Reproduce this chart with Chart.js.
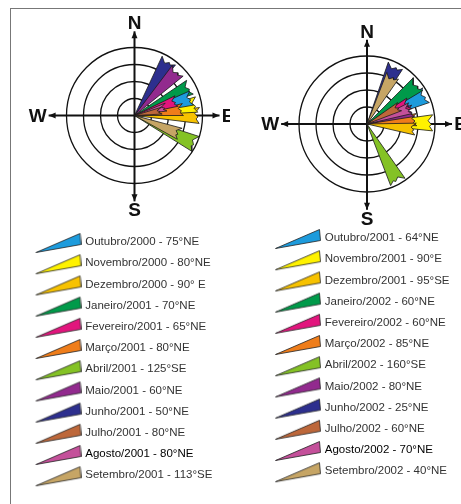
<!DOCTYPE html>
<html>
<head>
<meta charset="utf-8">
<script src="https://cdn.jsdelivr.net/npm/chart.js@4.4.1/dist/chart.umd.min.js"></script>
<style>
  body { margin: 0; background: #fff; }
  #folha { position: relative; width: 461px; height: 504px; overflow: hidden; }
  #moldura { position: absolute; left: 10px; top: 8px; width: 470px; height: 510px;
             border-top: 1.5px solid #777; border-left: 1.5px solid #777; }
  .painel { position: absolute; top: 0; }
</style>
</head>
<body>
<div id="folha">
  <div id="moldura"></div>
  <div class="painel" style="left:0"><canvas id="rosa1" width="230" height="504"></canvas></div>
  <div class="painel" style="left:230px"><canvas id="rosa2" width="231" height="504"></canvas></div>
</div>
<script>
// rosas de direcao mensal - out/2000 a set/2002
const rotulos1 = ['Outubro/2000 - 75°NE', 'Novembro/2000 - 80°NE', 'Dezembro/2000 - 90° E',
  'Janeiro/2001 - 70°NE', 'Fevereiro/2001 - 65°NE', 'Março/2001 - 80°NE', 'Abril/2001 - 125°SE',
  'Maio/2001 - 60°NE', 'Junho/2001 - 50°NE', 'Julho/2001 - 80°NE', 'Agosto/2001 - 80°NE',
  'Setembro/2001 - 113°SE'];
// direcao desenhada (graus a partir do N) e comprimento (em aneis)
const direcao1 = [73, 80, 90, 63, 71, 83, 115, 44, 32, 80, 75, 112];
const intensidade1 = [3.55, 3.75, 3.85, 3.7, 2.65, 2.9, 4.0, 3.7, 3.85, 1.65, 1.95, 2.9];

const rotulos2 = ['Outubro/2001 - 64°NE', 'Novembro/2001 - 90°E', 'Dezembro/2001 - 95°SE',
  'Janeiro/2002 - 60°NE', 'Fevereiro/2002 - 60°NE', 'Março/2002 - 85°NE', 'Abril/2002 - 160°SE',
  'Maio/2002 - 80°NE', 'Junho/2002 - 25°NE', 'Julho/2002 - 60°NE', 'Agosto/2002 - 70°NE',
  'Setembro/2002 - 40°NE'];
const direcao2 = [64, 89, 96, 52, 64, 85, 152, 74, 26, 62, 70, 28];
const intensidade2 = [3.9, 3.9, 2.9, 3.85, 2.8, 2.95, 3.9, 2.85, 3.85, 2.2, 2.75, 3.25];

const aneis = [1, 2, 3, 4];
const pontosCardeais = ['N', 'E', 'S', 'W'];

const cores = ['#1d9bdc', '#fff200', '#f7c200', '#009a4a', '#e2157d', '#ef7d1a',
  '#84c225', '#922a8e', '#2d2f8e', '#bd673a', '#c4509a', '#c6a565'];

const PX = 17;        // pixels por anel
const FONTE = 11.5;
const PAD_LEG = 9.7;  // linhas da legenda a cada 21.2px
const ABERTURA = 7;   // meia abertura da cunha, graus

function ponto(ang, r) {
  const a = ang * Math.PI / 180;
  return {x: r * Math.sin(a), y: r * Math.cos(a)};
}
// cunha triangular com a ponta externa recortada
function cunha(ang, r) {
  const w = ABERTURA;
  return [ponto(0, 0), ponto(ang - w, r), ponto(ang - w * 0.3, r - 0.3),
    ponto(ang + w * 0.2, r - 0.12), ponto(ang + w * 0.45, r - 0.22), ponto(ang + w, r - 0.02), ponto(0, 0)];
}

function icone(cor) {
  const c = document.createElement('canvas');
  c.width = 48; c.height = 24;
  const g = c.getContext('2d');
  g.beginPath();
  g.moveTo(2.5, 22.5); g.lineTo(46.5, 3.5); g.lineTo(47.5, 14.5); g.closePath();
  g.fillStyle = cor; g.fill();
  g.strokeStyle = '#222'; g.lineWidth = 0.8; g.stroke();
  return c;
}

function seta(ctx, x1, y1, x2, y2) {
  const a = Math.atan2(y2 - y1, x2 - x1);
  ctx.beginPath(); ctx.moveTo(x1, y1); ctx.lineTo(x2, y2); ctx.stroke();
  ctx.beginPath();
  ctx.moveTo(x2, y2);
  ctx.lineTo(x2 - 7 * Math.cos(a) + 3 * Math.sin(a), y2 - 7 * Math.sin(a) - 3 * Math.cos(a));
  ctx.lineTo(x2 - 7 * Math.cos(a) - 3 * Math.sin(a), y2 - 7 * Math.sin(a) + 3 * Math.cos(a));
  ctx.closePath(); ctx.fill();
}

const rosaFundo = {
  id: 'rosaFundo',
  beforeDatasetsDraw(chart) {
    const {ctx, scales: {x, y}} = chart;
    const x0 = x.getPixelForValue(0), y0 = y.getPixelForValue(0);
    const u = x.getPixelForValue(1) - x0;
    ctx.save();
    ctx.strokeStyle = '#111';
    ctx.fillStyle = '#111';
    ctx.lineWidth = 1.3;
    aneis.forEach(r => {
      ctx.beginPath(); ctx.arc(x0, y0, r * u, 0, 2 * Math.PI); ctx.stroke();
    });
    ctx.lineWidth = 2;
    seta(ctx, x0, y0, x0, y0 - 4.95 * u);
    seta(ctx, x0, y0, x0, y0 + 5.05 * u);
    seta(ctx, x0, y0, x0 - 5.05 * u, y0);
    seta(ctx, x0, y0, x0 + 5 * u, y0);
    ctx.font = 'bold 19px "Liberation Sans", Arial, sans-serif';
    ctx.textAlign = 'center';
    ctx.textBaseline = 'middle';
    const dist = {N: 5.45, E: 5.5, S: 5.55, W: 5.7};
    pontosCardeais.forEach((p, i) => {
      const q = ponto(i * 90, dist[p]);
      ctx.fillText(p, x0 + q.x * u, y0 - q.y * u + 1);
    });
    ctx.restore();
  }
};

function criarRosa(id, rotulos, direcao, intensidade, larg, alt, padEsq, linha0, cx, cy) {
  // legenda dentro da area, alinhada ao fim: a primeira linha fica em linha0
  const altLegenda = rotulos.length * (FONTE + PAD_LEG);
  const fundo = linha0 - FONTE / 2 + altLegenda;
  const padBaixo = alt - fundo;
  return new Chart(document.getElementById(id), {
    type: 'scatter',
    data: {
      datasets: rotulos.map((rot, i) => ({
        label: rot,
        data: cunha(direcao[i], intensidade[i]),
        showLine: true,
        fill: 'shape',
        backgroundColor: cores[i],
        borderColor: '#1a1a1a',
        borderWidth: 0.8,
        pointRadius: 0,
        order: intensidade[i]
      }))
    },
    options: {
      responsive: false,
      animation: false,
      events: [],
      layout: {padding: {left: padEsq, right: 0, top: 0, bottom: padBaixo}},
      scales: {
        x: {type: 'linear', display: false, bounds: 'data', min: (padEsq - cx) / PX, max: (larg - cx) / PX},
        y: {type: 'linear', display: false, bounds: 'data', min: -(fundo - cy) / PX, max: cy / PX}
      },
      plugins: {
        tooltip: {enabled: false},
        legend: {
          position: 'chartArea',
          align: 'end',
          onClick: null,
          labels: {
            usePointStyle: true,
            pointStyleWidth: 44,
            padding: PAD_LEG,
            font: {family: '"Liberation Sans", Arial, sans-serif', size: FONTE},
            generateLabels(ch) {
              return ch.data.datasets.map((ds, i) => ({
                text: ds.label,
                pointStyle: icone(ds.backgroundColor),
                fillStyle: ds.backgroundColor,
                strokeStyle: ds.backgroundColor,
                lineWidth: 0,
                hidden: false,
                datasetIndex: i,
                fontColor: ds.label.startsWith('Agosto') ? '#000' : '#333'
              }));
            }
          }
        }
      }
    },
    plugins: [rosaFundo]
  });
}

criarRosa('rosa1', rotulos1, direcao1, intensidade1, 230, 504, 25.8, 242, 134.5, 115.5);
criarRosa('rosa2', rotulos2, direcao2, intensidade2, 231, 504, 35.3, 238, 137, 124);
</script>
</body>
</html>
